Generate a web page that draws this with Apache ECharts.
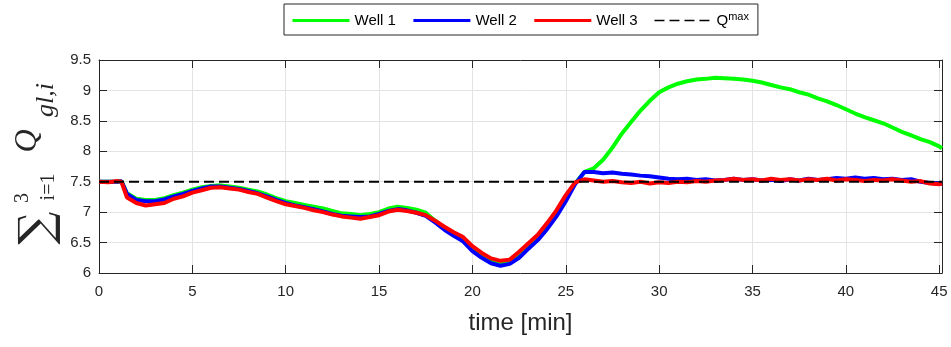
<!DOCTYPE html>
<html>
<head>
<meta charset="utf-8">
<script src="https://cdn.jsdelivr.net/npm/echarts@6/dist/echarts.min.js"></script>
<style>
html,body{margin:0;padding:0;background:#fff}
#chart{width:951px;height:347px}
</style>
</head>
<body>
<div id="chart"></div>
<script>
// time [min]
var time = [0,0.5,1,1.2,1.5,2,
  2.5,3,3.5,4,4.5,5,5.5,6,6.5,7,
  7.5,8,8.5,9,9.5,10,10.5,11,11.5,12,
  12.5,13,13.5,14,14.5,15,15.5,16,16.5,17,
  17.5,18,18.5,19,19.5,20,20.5,21,21.5,22,
  22.5,23,23.5,24,24.5,25,25.5,26,26.5,27,
  27.5,28,28.5,29,29.5,30,30.5,31,31.5,32,
  32.5,33,33.5,34,34.5,35,35.5,36,36.5,37,
  37.5,38,38.5,39,39.5,40,40.5,41,41.5,42,
  42.5,43,43.5,44,44.5,45,45.15];

var well1 = [7.50,7.50,7.50,7.51,7.31,7.22,
  7.20,7.20,7.23,7.28,7.32,7.37,7.41,7.43,7.44,7.42,
  7.40,7.37,7.34,7.29,7.23,7.18,7.15,7.12,7.09,7.06,
  7.02,6.98,6.97,6.95,6.97,7.00,7.06,7.09,7.07,7.04,
  6.99,6.86,6.74,6.64,6.55,6.40,6.29,6.20,6.16,6.18,
  6.29,6.44,6.58,6.77,6.98,7.23,7.47,7.66,7.72,7.86,
  8.06,8.29,8.48,8.67,8.83,8.97,9.05,9.11,9.15,9.18,
  9.19,9.21,9.20,9.19,9.18,9.16,9.13,9.09,9.05,9.02,
  8.97,8.93,8.87,8.82,8.76,8.69,8.62,8.56,8.51,8.46,
  8.39,8.32,8.26,8.20,8.15,8.08,8.05];

var well2 = [7.50,7.50,7.50,7.51,7.30,7.20,
  7.18,7.18,7.21,7.26,7.30,7.35,7.39,7.42,7.42,7.40,
  7.38,7.35,7.31,7.26,7.20,7.15,7.11,7.08,7.05,7.01,
  6.97,6.94,6.93,6.92,6.93,6.97,7.02,7.05,7.03,6.99,
  6.94,6.83,6.71,6.61,6.52,6.36,6.25,6.16,6.12,6.15,
  6.25,6.40,6.54,6.72,6.93,7.18,7.46,7.66,7.66,7.64,
  7.65,7.63,7.62,7.60,7.59,7.57,7.55,7.54,7.55,7.53,
  7.54,7.52,7.53,7.55,7.53,7.54,7.52,7.53,7.51,7.54,
  7.52,7.55,7.53,7.54,7.56,7.55,7.57,7.55,7.56,7.54,
  7.55,7.53,7.54,7.50,7.48,7.47,7.46];

var well3 = [7.50,7.49,7.51,7.50,7.24,7.15,
  7.11,7.13,7.15,7.22,7.26,7.32,7.36,7.40,7.41,7.39,
  7.37,7.33,7.30,7.24,7.18,7.13,7.10,7.07,7.03,7.00,
  6.96,6.93,6.91,6.89,6.92,6.95,7.01,7.04,7.02,6.99,
  6.95,6.86,6.76,6.67,6.59,6.44,6.33,6.24,6.20,6.22,
  6.35,6.49,6.63,6.82,7.03,7.28,7.49,7.54,7.52,7.50,
  7.51,7.49,7.48,7.50,7.47,7.49,7.48,7.50,7.49,7.51,
  7.50,7.52,7.53,7.55,7.53,7.54,7.52,7.55,7.53,7.54,
  7.52,7.54,7.53,7.55,7.52,7.54,7.53,7.51,7.53,7.52,
  7.54,7.52,7.50,7.51,7.47,7.46,7.47];

var qmaxTime = [0, 45.15];
var qmax = [7.5, 7.5];

var xTicks = [0,5,10,15,20,25,30,35,40,45];

function pairs(xs, ys){
  var out = [];
  for (var i = 0; i < xs.length; i++) out.push([xs[i], ys[i]]);
  return out;
}

var axisColor = '#262626';
var gridColor = '#e3e3e3';

var myChart = echarts.init(document.getElementById('chart'));

function xAxisDef(pos){
  return {
    type:'value', position:pos, min:0, max:45.15, interval:5,
    axisLine:{show:true, onZero:false, lineStyle:{color:axisColor, width:1}},
    axisTick:{show:true, inside:true, length:8, lineStyle:{color:axisColor}},
    axisLabel:{show:pos==='bottom', color:axisColor, fontSize:15, margin:11,
      fontFamily:'Liberation Sans',
      formatter:function(v){ return xTicks.indexOf(v) >= 0 ? String(v) : ''; }},
    splitLine:{show:pos==='bottom', lineStyle:{color:gridColor, width:1}},
    name: pos==='bottom' ? 'time [min]' : '',
    nameLocation:'middle', nameGap:38,
    nameTextStyle:{fontSize:24, color:axisColor, fontFamily:'Liberation Sans'}
  };
}
function yAxisDef(pos){
  return {
    type:'value', position:pos, min:6, max:9.5, interval:0.5,
    axisLine:{show:true, onZero:false, lineStyle:{color:axisColor, width:1}},
    axisTick:{show:true, inside:true, length:8, lineStyle:{color:axisColor}},
    axisLabel:{show:pos==='left', color:axisColor, fontSize:15, margin:8,
      fontFamily:'Liberation Sans'},
    splitLine:{show:pos==='left', lineStyle:{color:gridColor, width:1}}
  };
}

function lineSeries(name, xs, ys, color, width, dash, z){
  return {
    name:name, type:'line', data:pairs(xs, ys),
    xAxisIndex:0, yAxisIndex:0,
    showSymbol:false, symbol:'none', smooth:false,
    lineStyle:{color:color, width:width, type:dash || 'solid'},
    itemStyle:{color:color},
    emphasis:{disabled:true},
    z:z
  };
}

var mathColor = '#262626';
var option = {
  animation:false,
  backgroundColor:'#fff',
  legend:{
    left:284, top:4,
    padding:[7,9,7,7],
    borderColor:axisColor, borderWidth:1,
    itemWidth:57, itemHeight:14, itemGap:16,
    itemStyle:{opacity:0},
    textStyle:{fontSize:15, color:'#000', fontFamily:'Liberation Sans',
      rich:{
        q:{fontSize:15, color:'#000', fontFamily:'Liberation Sans'},
        s:{fontSize:11, color:'#000', fontFamily:'Liberation Sans', padding:[0,0,8,0]}
      }},
    formatter:function(name){ return name === 'Qmax' ? '{q|Q}{s|max}' : name; },
    data:[
      {name:'Well 1', lineStyle:{width:3}},
      {name:'Well 2', lineStyle:{width:3}},
      {name:'Well 3', lineStyle:{width:3}},
      {name:'Qmax', lineStyle:{width:1.5}}
    ]
  },
  grid:{left:99, right:9, top:60, bottom:74},
  xAxis:[xAxisDef('bottom'), xAxisDef('top')],
  yAxis:[yAxisDef('left'), yAxisDef('right')],
  series:[
    lineSeries('Well 1', time, well1, '#00ff00', 4, null, 2),
    lineSeries('Well 2', time, well2, '#0000ff', 4, null, 3),
    lineSeries('Well 3', time, well3, '#ff0000', 4, null, 4),
    lineSeries('Qmax', qmaxTime, qmax, '#000000', 2, [10,5], 5)
  ],
  graphic:[
    {type:'text', x:39, y:228, rotation:Math.PI/2, z:10,
      style:{text:'\u2211', font:'46px "DejaVu Serif"', fill:mathColor, align:'center', verticalAlign:'middle'}},
    {type:'text', x:23, y:198, rotation:Math.PI/2, z:10,
      style:{text:'3', font:'20px "Liberation Serif"', fill:mathColor, align:'center', verticalAlign:'middle'}},
    {type:'text', x:49, y:187, rotation:Math.PI/2, z:10,
      style:{text:'i=1', font:'20px "Liberation Serif"', fill:mathColor, align:'center', verticalAlign:'middle'}},
    {type:'text', x:28, y:141, rotation:Math.PI/2, z:10,
      style:{text:'Q', font:'italic 32px "Liberation Serif"', fill:mathColor, align:'center', verticalAlign:'middle'}},
    {type:'text', x:46, y:100, rotation:Math.PI/2, z:10,
      style:{text:'gl,i', font:'italic 26px "Liberation Serif"', fill:mathColor, align:'center', verticalAlign:'middle'}}
  ]
};
myChart.setOption(option);
</script>
</body>
</html>
